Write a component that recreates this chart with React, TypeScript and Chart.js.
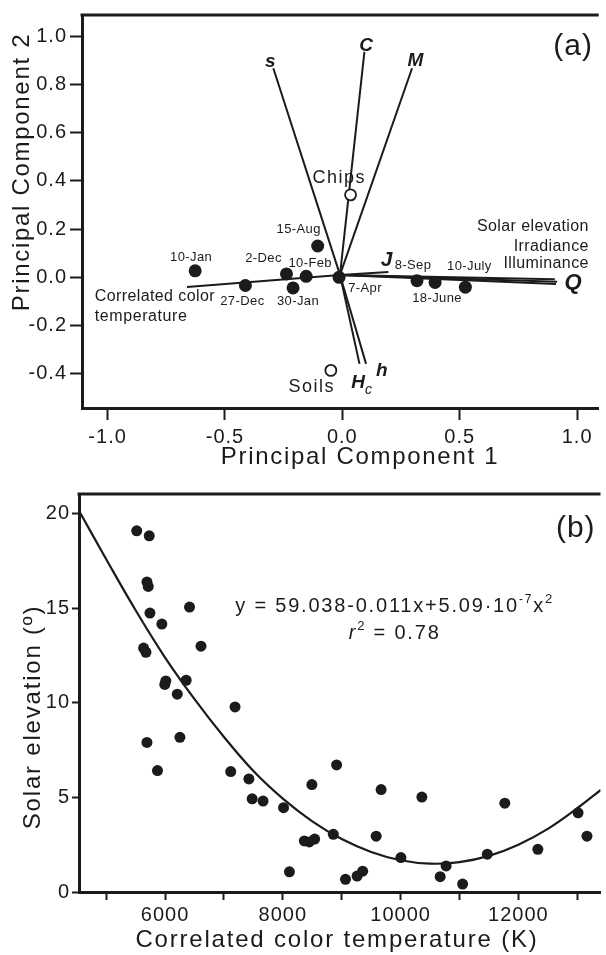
import React, { useEffect, useRef } from 'react';
import { Chart, registerables } from 'chart.js';

Chart.register(...registerables);

const FONT = '"Liberation Sans", Arial, sans-serif';
const INK = '#1b1b1b';

// ---------- Panel (a): PCA biplot ----------
const sampleDates = ['10-Jan', '27-Dec', '2-Dec', '30-Jan', '10-Feb', '15-Aug', '7-Apr', '8-Sep', '18-June', '10-July'];
const pc1Scores = [-0.627, -0.413, -0.238, -0.21, -0.154, -0.105, -0.014, 0.318, 0.395, 0.524];
const pc2Scores = [0.027, -0.034, 0.014, -0.044, 0.004, 0.13, 0.0, -0.014, -0.021, -0.041];
const surfaceNames = ['Chips', 'Soils'];
const surfacePC1 = [0.035, -0.049];
const surfacePC2 = [0.342, -0.386];
const vectorOrigin = [-0.01, 0.01];
const vectorNames = ['s', 'C', 'M', 'J', 'Solar elevation', 'Irradiance', 'Illuminance', 'Correlated color temperature', 'Hc', 'h'];
const vectorPC1 = [-0.294, 0.094, 0.297, 0.196, 0.905, 0.915, 0.91, -0.662, 0.073, 0.101];
const vectorPC2 = [0.867, 0.935, 0.867, 0.022, -0.008, -0.018, -0.028, -0.04, -0.359, -0.359];
const pcTicksX = [-1, -0.5, 0, 0.5, 1];
const pcTicksY = [1, 0.8, 0.6, 0.4, 0.2, 0, -0.2, -0.4];

// ---------- Panel (b): solar elevation vs CCT ----------
const cctValues = [5518, 5731, 5692, 5714, 6415, 5743, 5945, 5635, 5675, 6610, 6012, 5995, 6358, 6207, 7188, 5692, 6252, 5871, 7115, 7423, 7479, 7664, 8012, 8493, 8365, 8450, 8540, 8112, 8913, 8857, 9064, 9261, 9356, 9669, 9585, 10005, 10361, 10672, 10773, 11053, 11473, 11770, 12331, 13014, 13165];
const solarElevation = [19.1, 18.84, 16.4, 16.16, 15.07, 14.75, 14.17, 12.9, 12.68, 13.0, 11.16, 10.98, 11.2, 10.46, 9.79, 7.91, 8.18, 6.42, 6.37, 5.98, 4.93, 4.81, 4.46, 5.68, 2.7, 2.65, 2.8, 1.07, 6.72, 3.05, 0.67, 0.84, 1.1, 5.42, 2.95, 1.82, 5.02, 0.81, 1.38, 0.42, 2.0, 4.7, 2.26, 4.19, 2.95];
const fitCCT = [4550, 5000, 5500, 6000, 6500, 7000, 7500, 8000, 8500, 9000, 9500, 10000, 10500, 11000, 11500, 12000, 12500, 13000, 13400];
const fitElevation = [20.1, 17.6, 14.9, 12.4, 10.2, 8.2, 6.4, 4.94, 3.74, 2.8, 2.12, 1.68, 1.5, 1.58, 1.91, 2.5, 3.34, 4.43, 5.4];
const cctTicks = [5000, 6000, 7000, 8000, 9000, 10000, 11000, 12000, 13000];
const cctTickLabels = ['', '6000', '', '8000', '', '10000', '', '12000', ''];
const elevationTicks = [0, 5, 10, 15, 20];

type Seg = { t: string; size: number; style?: string; weight?: string; dy?: number };

function fontOf(s: Seg) {
  return `${s.style || 'normal'} ${s.weight || 'normal'} ${s.size}px ${FONT}`;
}

function drawRich(ctx: any, segs: Seg[], x: number, y: number, align: string, ls: number, rotate = false) {
  ctx.save();
  ctx.letterSpacing = ls + 'px';
  ctx.fillStyle = INK;
  ctx.textBaseline = 'middle';
  ctx.textAlign = 'left';
  if (rotate) {
    ctx.translate(x, y);
    ctx.rotate(-Math.PI / 2);
    x = 0;
    y = 0;
  }
  let total = 0;
  const widths = segs.map((s) => {
    ctx.font = fontOf(s);
    const w = ctx.measureText(s.t).width;
    total += w;
    return w;
  });
  let cx = align === 'center' ? x - total / 2 : align === 'right' ? x - total : x;
  segs.forEach((s, i) => {
    ctx.font = fontOf(s);
    ctx.fillText(s.t, cx, y + (s.dy || 0));
    cx += widths[i];
  });
  ctx.restore();
}

function topFrame(chart: any) {
  const { ctx, chartArea } = chart;
  ctx.save();
  ctx.strokeStyle = INK;
  ctx.lineWidth = 3;
  ctx.beginPath();
  ctx.moveTo(chartArea.left - 1.5, chartArea.top);
  ctx.lineTo(chartArea.right, chartArea.top);
  ctx.stroke();
  ctx.restore();
}

const dateLabelOffsets = [[-4, -13], [-3, 16], [-23, -16], [5, 13], [4, -13], [-19, -17], [26, 11], [-4, -15], [2, 16], [4, -21]];

const panelAText = {
  id: 'panelAText',
  beforeDraw(chart: any) {
    chart.ctx.letterSpacing = '1px';
  },
  afterDraw(chart: any) {
    const { ctx } = chart;
    const xs = chart.scales.x;
    const ys = chart.scales.y;
    const px = (v: number) => xs.getPixelForValue(v);
    const py = (v: number) => ys.getPixelForValue(v);
    topFrame(chart);
    sampleDates.forEach((d, i) => {
      drawRich(ctx, [{ t: d, size: 13 }], px(pc1Scores[i]) + dateLabelOffsets[i][0], py(pc2Scores[i]) + dateLabelOffsets[i][1], 'center', 0.4);
    });
    const bi = { style: 'italic', weight: 'bold' };
    drawRich(ctx, [{ t: 's', size: 19, ...bi }], px(-0.307), py(0.895), 'center', 0);
    drawRich(ctx, [{ t: 'C', size: 19, ...bi }], px(0.101), py(0.961), 'center', 0);
    drawRich(ctx, [{ t: 'M', size: 19, ...bi }], px(0.311), py(0.899), 'center', 0);
    drawRich(ctx, [{ t: 'J', size: 21, ...bi }], px(0.188), py(0.069), 'center', 0);
    drawRich(ctx, [{ t: 'Q', size: 22, ...bi }], px(0.983), py(-0.023), 'center', 0);
    drawRich(ctx, [{ t: 'h', size: 19, ...bi }], px(0.168), py(-0.386), 'center', 0);
    drawRich(ctx, [{ t: 'H', size: 19, ...bi }, { t: 'c', size: 14, style: 'italic', dy: 7 }], px(0.038), py(-0.438), 'left', 0);
    drawRich(ctx, [{ t: surfaceNames[0], size: 18 }], px(-0.013), py(0.41), 'center', 1.5);
    drawRich(ctx, [{ t: surfaceNames[1], size: 18 }], px(-0.13), py(-0.456), 'center', 1.5);
    drawRich(ctx, [{ t: 'Solar elevation', size: 16 }], px(1.05), py(0.209), 'right', 0.4);
    drawRich(ctx, [{ t: 'Irradiance', size: 16 }], px(1.05), py(0.127), 'right', 0.4);
    drawRich(ctx, [{ t: 'Illuminance', size: 16 }], px(1.05), py(0.057), 'right', 0.4);
    drawRich(ctx, [{ t: 'Correlated color', size: 16 }], px(-1.055), py(-0.078), 'left', 0.4);
    drawRich(ctx, [{ t: 'temperature', size: 16 }], px(-1.055), py(-0.164), 'left', 0.6);
    drawRich(ctx, [{ t: '(a)', size: 30 }], px(0.983), py(0.957), 'center', 1);
    // axis titles
    drawRich(ctx, [{ t: 'Principal Component 1', size: 24 }], 360, 457, 'center', 1.7);
    drawRich(ctx, [{ t: 'Principal Component 2', size: 24 }], 22, 172, 'center', 1.7, true);
    ctx.letterSpacing = '0px';
  },
};

const panelBText = {
  id: 'panelBText',
  beforeDraw(chart: any) {
    chart.ctx.letterSpacing = '1px';
  },
  afterDraw(chart: any) {
    const { ctx } = chart;
    const xs = chart.scales.x;
    const ys = chart.scales.y;
    const px = (v: number) => xs.getPixelForValue(v);
    const py = (v: number) => ys.getPixelForValue(v);
    topFrame(chart);
    drawRich(ctx, [{ t: '(b)', size: 30 }], px(12975), py(19.2), 'center', 1);
    drawRich(
      ctx,
      [
        { t: 'y = 59.038-0.011x+5.09·10', size: 20 },
        { t: '-7', size: 12, dy: -7 },
        { t: 'x', size: 20 },
        { t: '2', size: 13, dy: -7 },
      ],
      px(9899),
      py(15.1),
      'center',
      1.8
    );
    drawRich(
      ctx,
      [
        { t: 'r', size: 20, style: 'italic' },
        { t: '2', size: 13, dy: -7 },
        { t: ' = 0.78', size: 20 },
      ],
      px(9899),
      py(13.68),
      'center',
      1.8
    );
    drawRich(ctx, [{ t: 'Correlated color temperature (K)', size: 24 }], 337, 460, 'center', 1.8);
    drawRich(ctx, [{ t: 'Solar elevation (º)', size: 24 }], 33, 237, 'center', 1.8, true);
    ctx.letterSpacing = '0px';
  },
};

function axisCommon(tickLen: number, pad: number) {
  return {
    grid: { drawOnChartArea: false, drawTicks: true, tickLength: tickLen, tickWidth: 2, tickColor: INK },
    border: { display: true, width: 3, color: INK },
    ticks: { font: { size: 20, family: FONT }, color: INK, padding: pad, autoSkip: false, maxRotation: 0, minRotation: 0 },
  };
}

function makeChartA(canvas: HTMLCanvasElement) {
  const vectorSets = vectorNames.map((name, i) => ({
    label: name,
    data: [
      { x: vectorOrigin[0], y: vectorOrigin[1] },
      { x: vectorPC1[i], y: vectorPC2[i] },
    ],
    showLine: true,
    borderColor: INK,
    borderWidth: 2,
    pointRadius: 0,
    order: 2,
  }));
  const ax = axisCommon(12, 5);
  const ay = axisCommon(12, 3);
  return new Chart(canvas, {
    type: 'scatter',
    data: {
      datasets: [
        {
          label: 'Sampling dates',
          data: pc1Scores.map((x, i) => ({ x, y: pc2Scores[i] })),
          pointRadius: 6.5,
          pointBackgroundColor: INK,
          pointBorderWidth: 0,
          order: 0,
        },
        {
          label: 'Surfaces',
          data: surfacePC1.map((x, i) => ({ x, y: surfacePC2[i] })),
          pointRadius: 5.5,
          pointBackgroundColor: '#ffffff',
          pointBorderColor: INK,
          pointBorderWidth: 1.8,
          order: 1,
        },
        ...vectorSets,
      ] as any,
    },
    options: {
      animation: false,
      responsive: false,
      events: [],
      layout: { padding: { top: 11, left: 0, right: 0, bottom: 0 } },
      plugins: { legend: { display: false }, tooltip: { enabled: false } },
      scales: {
        x: {
          type: 'linear',
          min: -1.109,
          max: 1.092,
          afterBuildTicks: (s: any) => {
            s.ticks = pcTicksX.map((v) => ({ value: v }));
          },
          afterFit: (s: any) => {
            s.height = 72;
          },
          ...ax,
          ticks: { ...ax.ticks, callback: (v: any) => Number(v).toFixed(1) },
        },
        y: {
          type: 'linear',
          min: -0.542,
          max: 1.088,
          afterBuildTicks: (s: any) => {
            s.ticks = pcTicksY.map((v) => ({ value: v }));
          },
          afterFit: (s: any) => {
            s.width = 82;
          },
          ...ay,
          ticks: { ...ay.ticks, callback: (v: any) => Number(v).toFixed(1) },
        },
      },
    } as any,
    plugins: [panelAText],
  });
}

function makeChartB(canvas: HTMLCanvasElement) {
  const ax = axisCommon(8, 3);
  const ay = axisCommon(7, 2);
  return new Chart(canvas, {
    type: 'scatter',
    data: {
      datasets: [
        {
          label: 'Observations',
          data: cctValues.map((x, i) => ({ x, y: solarElevation[i] })),
          pointRadius: 5.5,
          pointBackgroundColor: INK,
          pointBorderWidth: 0,
          order: 0,
        },
        {
          label: 'Quadratic fit',
          data: fitCCT.map((x, i) => ({ x, y: fitElevation[i] })),
          showLine: true,
          borderColor: INK,
          borderWidth: 2.2,
          pointRadius: 0,
          tension: 0.4,
          order: 1,
        },
      ] as any,
    },
    options: {
      animation: false,
      responsive: false,
      events: [],
      layout: { padding: { top: 12, left: 0, right: 0, bottom: 0 } },
      plugins: { legend: { display: false }, tooltip: { enabled: false } },
      scales: {
        x: {
          type: 'linear',
          min: 4538,
          max: 13395,
          afterBuildTicks: (s: any) => {
            s.ticks = cctTicks.map((v) => ({ value: v }));
          },
          afterFit: (s: any) => {
            s.height = 63;
          },
          ...ax,
          ticks: {
            ...ax.ticks,
            callback: (v: any) => {
              const i = cctTicks.indexOf(Number(v));
              return i >= 0 ? cctTickLabels[i] : '';
            },
          },
        },
        y: {
          type: 'linear',
          min: 0,
          max: 21.05,
          afterBuildTicks: (s: any) => {
            s.ticks = elevationTicks.map((v) => ({ value: v }));
          },
          afterFit: (s: any) => {
            s.width = 79;
          },
          ...ay,
          ticks: { ...ay.ticks, callback: (v: any) => String(v) },
        },
      },
    } as any,
    plugins: [panelBText],
  });
}

export default function App() {
  const refA = useRef<HTMLCanvasElement>(null);
  const refB = useRef<HTMLCanvasElement>(null);
  useEffect(() => {
    const a = makeChartA(refA.current!);
    const b = makeChartB(refB.current!);
    return () => {
      a.destroy();
      b.destroy();
    };
  }, []);
  return (
    <div style={{ position: 'absolute', left: 0, top: 0, width: 606, height: 955, background: '#ffffff', overflow: 'hidden' }}>
      <canvas ref={refA} width={606} height={480} style={{ display: 'block', width: 606, height: 480 }} />
      <canvas ref={refB} width={606} height={475} style={{ display: 'block', width: 606, height: 475 }} />
    </div>
  );
}
